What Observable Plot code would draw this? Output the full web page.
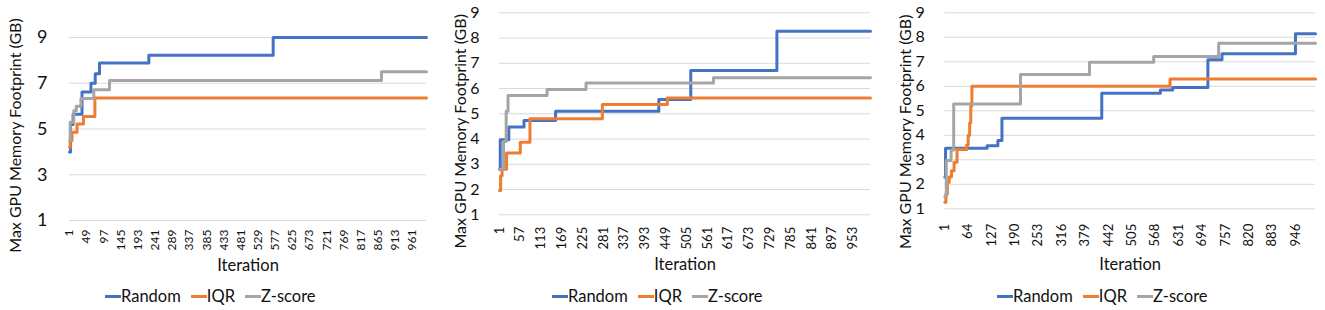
<!DOCTYPE html>
<html><head><meta charset="utf-8">
<script src="https://cdn.jsdelivr.net/npm/d3@7"></script>
<script src="https://cdn.jsdelivr.net/npm/@observablehq/plot@0.6"></script>
<style>
body{margin:0;background:#fff;font-family:Lato,sans-serif;}
#wrap{position:relative;width:1325px;height:310px;overflow:hidden;}
.panel{position:absolute;top:0;height:310px;}
.panel svg{position:absolute;left:0;top:0;}
.legend{position:absolute;top:285px;display:flex;align-items:center;font-size:16.5px;color:#111;line-height:22px;white-space:nowrap;}
.legend .item{display:flex;align-items:center;margin-right:10px;}
.legend .sw{display:inline-block;width:16px;height:3px;}
</style></head><body><div id="wrap"></div>
<script>
const seriesNames = ["Random", "IQR", "Z-score"];
const seriesColors = ["#4472C4", "#ED7D31", "#A5A5A5"];
const yTitle = "Max GPU Memory Footprint (GB)";
const xTitle = "Iteration";

// Panel 1
const p1XTicks = [1,49,97,145,193,241,289,337,385,433,481,529,577,625,673,721,769,817,865,913,961];
const p1YTicks = [1,3,5,7,9];
const p1RandomIter = [1, 4, 11, 36, 61, 73, 85, 223, 571, 1000];
const p1RandomVal  = [4.0, 5.2, 5.65, 6.62, 7.0, 7.42, 7.88, 8.22, 9.0, 9.0];
const p1IqrIter = [1, 3, 8, 22, 40, 72, 1000];
const p1IqrVal  = [4.2, 4.5, 4.86, 5.22, 5.55, 6.35, 6.35];
const p1ZIter = [1, 3, 13, 20, 33, 69, 113, 874, 1000];
const p1ZVal  = [4.5, 5.3, 5.8, 6.0, 6.33, 6.72, 7.12, 7.5, 7.5];

// Panel 2
const p2XTicks = [1,57,113,169,225,281,337,393,449,505,561,617,673,729,785,841,897,953];
const p2YTicks = [1,2,3,4,5,6,7,8,9];
const p2RandomIter = [1, 3, 26, 67, 152, 430, 516, 748, 1000];
const p2RandomVal  = [2.8, 3.97, 4.48, 4.73, 5.1, 5.57, 6.71, 8.27, 8.27];
const p2IqrIter = [1, 4, 8, 20, 57, 83, 278, 453, 1000];
const p2IqrVal  = [1.96, 2.55, 2.8, 3.45, 3.87, 4.8, 5.37, 5.63, 5.63];
const p2ZIter = [1, 12, 19, 24, 129, 234, 577, 1000];
const p2ZVal  = [2.8, 3.9, 5.1, 5.72, 5.96, 6.22, 6.43, 6.43];

// Panel 3
const p3XTicks = [1,64,127,190,253,316,379,442,505,568,631,694,757,820,883,946];
const p3YTicks = [1,2,3,4,5,6,7,8,9];
const p3RandomIter = [1, 3, 115, 144, 155, 424, 582, 615, 710, 748, 946, 1000];
const p3RandomVal  = [2.3, 3.47, 3.57, 3.79, 4.7, 5.72, 5.85, 5.95, 7.08, 7.33, 8.14, 8.14];
const p3IqrIter = [1, 4, 8, 13, 19, 26, 34, 60, 64, 68, 71, 74, 608, 1000];
const p3IqrVal  = [1.27, 1.6, 2.08, 2.3, 2.55, 2.9, 3.42, 3.6, 4.0, 4.5, 5.2, 6.0, 6.3, 6.3];
const p3ZIter = [1, 5, 18, 25, 205, 391, 564, 739, 1000];
const p3ZVal  = [1.5, 2.97, 3.4, 5.28, 6.48, 6.98, 7.22, 7.76, 7.76];

function rows(list) {
  const out = [];
  list.forEach(([iters, vals], k) => iters.forEach((it, j) => out.push({series: seriesNames[k], iter: it, value: vals[j]})));
  return out;
}

const H = 275;
const panels = [
  {left: 0, width: 440, ml: 69, mr: 14, mt: 37, yb: 220, xTicks: p1XTicks, yTicks: p1YTicks,
   ytp: 22, yfs: 18, xtp: 9, xfs: 12, tdx: -54, tdy: 6.5, idy: 45, legendLeft: 105,
   data: rows([[p1RandomIter, p1RandomVal], [p1IqrIter, p1IqrVal], [p1ZIter, p1ZVal]])},
  {left: 440, width: 445, ml: 59, mr: 15, mt: 12.3, yb: 214.3, xTicks: p2XTicks, yTicks: p2YTicks,
   ytp: 20, yfs: 16, xtp: 12, xfs: 13, tdx: -39, tdy: 17.5, idy: 50, legendLeft: 112,
   data: rows([[p2RandomIter, p2RandomVal], [p2IqrIter, p2IqrVal], [p2ZIter, p2ZVal]])},
  {left: 885, width: 440, ml: 59.3, mr: 10, mt: 12.3, yb: 208.3, xTicks: p3XTicks, yTicks: p3YTicks,
   ytp: 20, yfs: 16, xtp: 15, xfs: 13, tdx: -39, tdy: 21, idy: 56, legendLeft: 112,
   data: rows([[p3RandomIter, p3RandomVal], [p3IqrIter, p3IqrVal], [p3ZIter, p3ZVal]])}
];

const wrap = document.getElementById("wrap");
for (const p of panels) {
  const div = document.createElement("div");
  div.className = "panel";
  div.style.left = p.left + "px";
  div.style.width = p.width + "px";
  const chart = Plot.plot({
    width: p.width, height: H,
    marginLeft: p.ml, marginRight: p.mr, marginTop: p.mt, marginBottom: H - p.yb,
    style: {fontFamily: "Lato, sans-serif", background: "transparent", color: "#111", overflow: "visible"},
    x: {domain: [1, 1000]},
    y: {domain: [1, 9]},
    color: {domain: seriesNames, range: seriesColors},
    marks: [
      Plot.gridY(p.yTicks, {stroke: "#d9d9d9", strokeOpacity: 1, strokeWidth: 1}),
      Plot.axisY(p.yTicks, {tickSize: 0, tickPadding: p.ytp, fontSize: p.yfs, label: null}),
      Plot.axisX(p.xTicks, {tickSize: 0, tickPadding: p.xtp, tickRotate: -90, fontSize: p.xfs, label: null}),
      Plot.line(p.data, {x: "iter", y: "value", z: "series", stroke: "series", strokeWidth: 3, curve: "step-after"}),
      Plot.text([yTitle], {frameAnchor: "left", textAnchor: "middle", rotate: -90, dx: p.tdx, dy: p.tdy, fontSize: 16, lineAnchor: "middle", fill: "#111"}),
      Plot.text([xTitle], {frameAnchor: "bottom", textAnchor: "middle", dy: p.idy, fontSize: 16.5, lineAnchor: "middle", fill: "#111"})
    ]
  });
  div.appendChild(chart);
  const lg = document.createElement("div");
  lg.className = "legend";
  lg.style.left = p.legendLeft + "px";
  seriesNames.forEach((n, k) => {
    const it = document.createElement("span");
    it.className = "item";
    const sw = document.createElement("span");
    sw.className = "sw";
    sw.style.background = seriesColors[k];
    it.appendChild(sw);
    it.appendChild(document.createTextNode(n));
    lg.appendChild(it);
  });
  div.appendChild(lg);
  wrap.appendChild(div);
}
</script>
</body></html>
